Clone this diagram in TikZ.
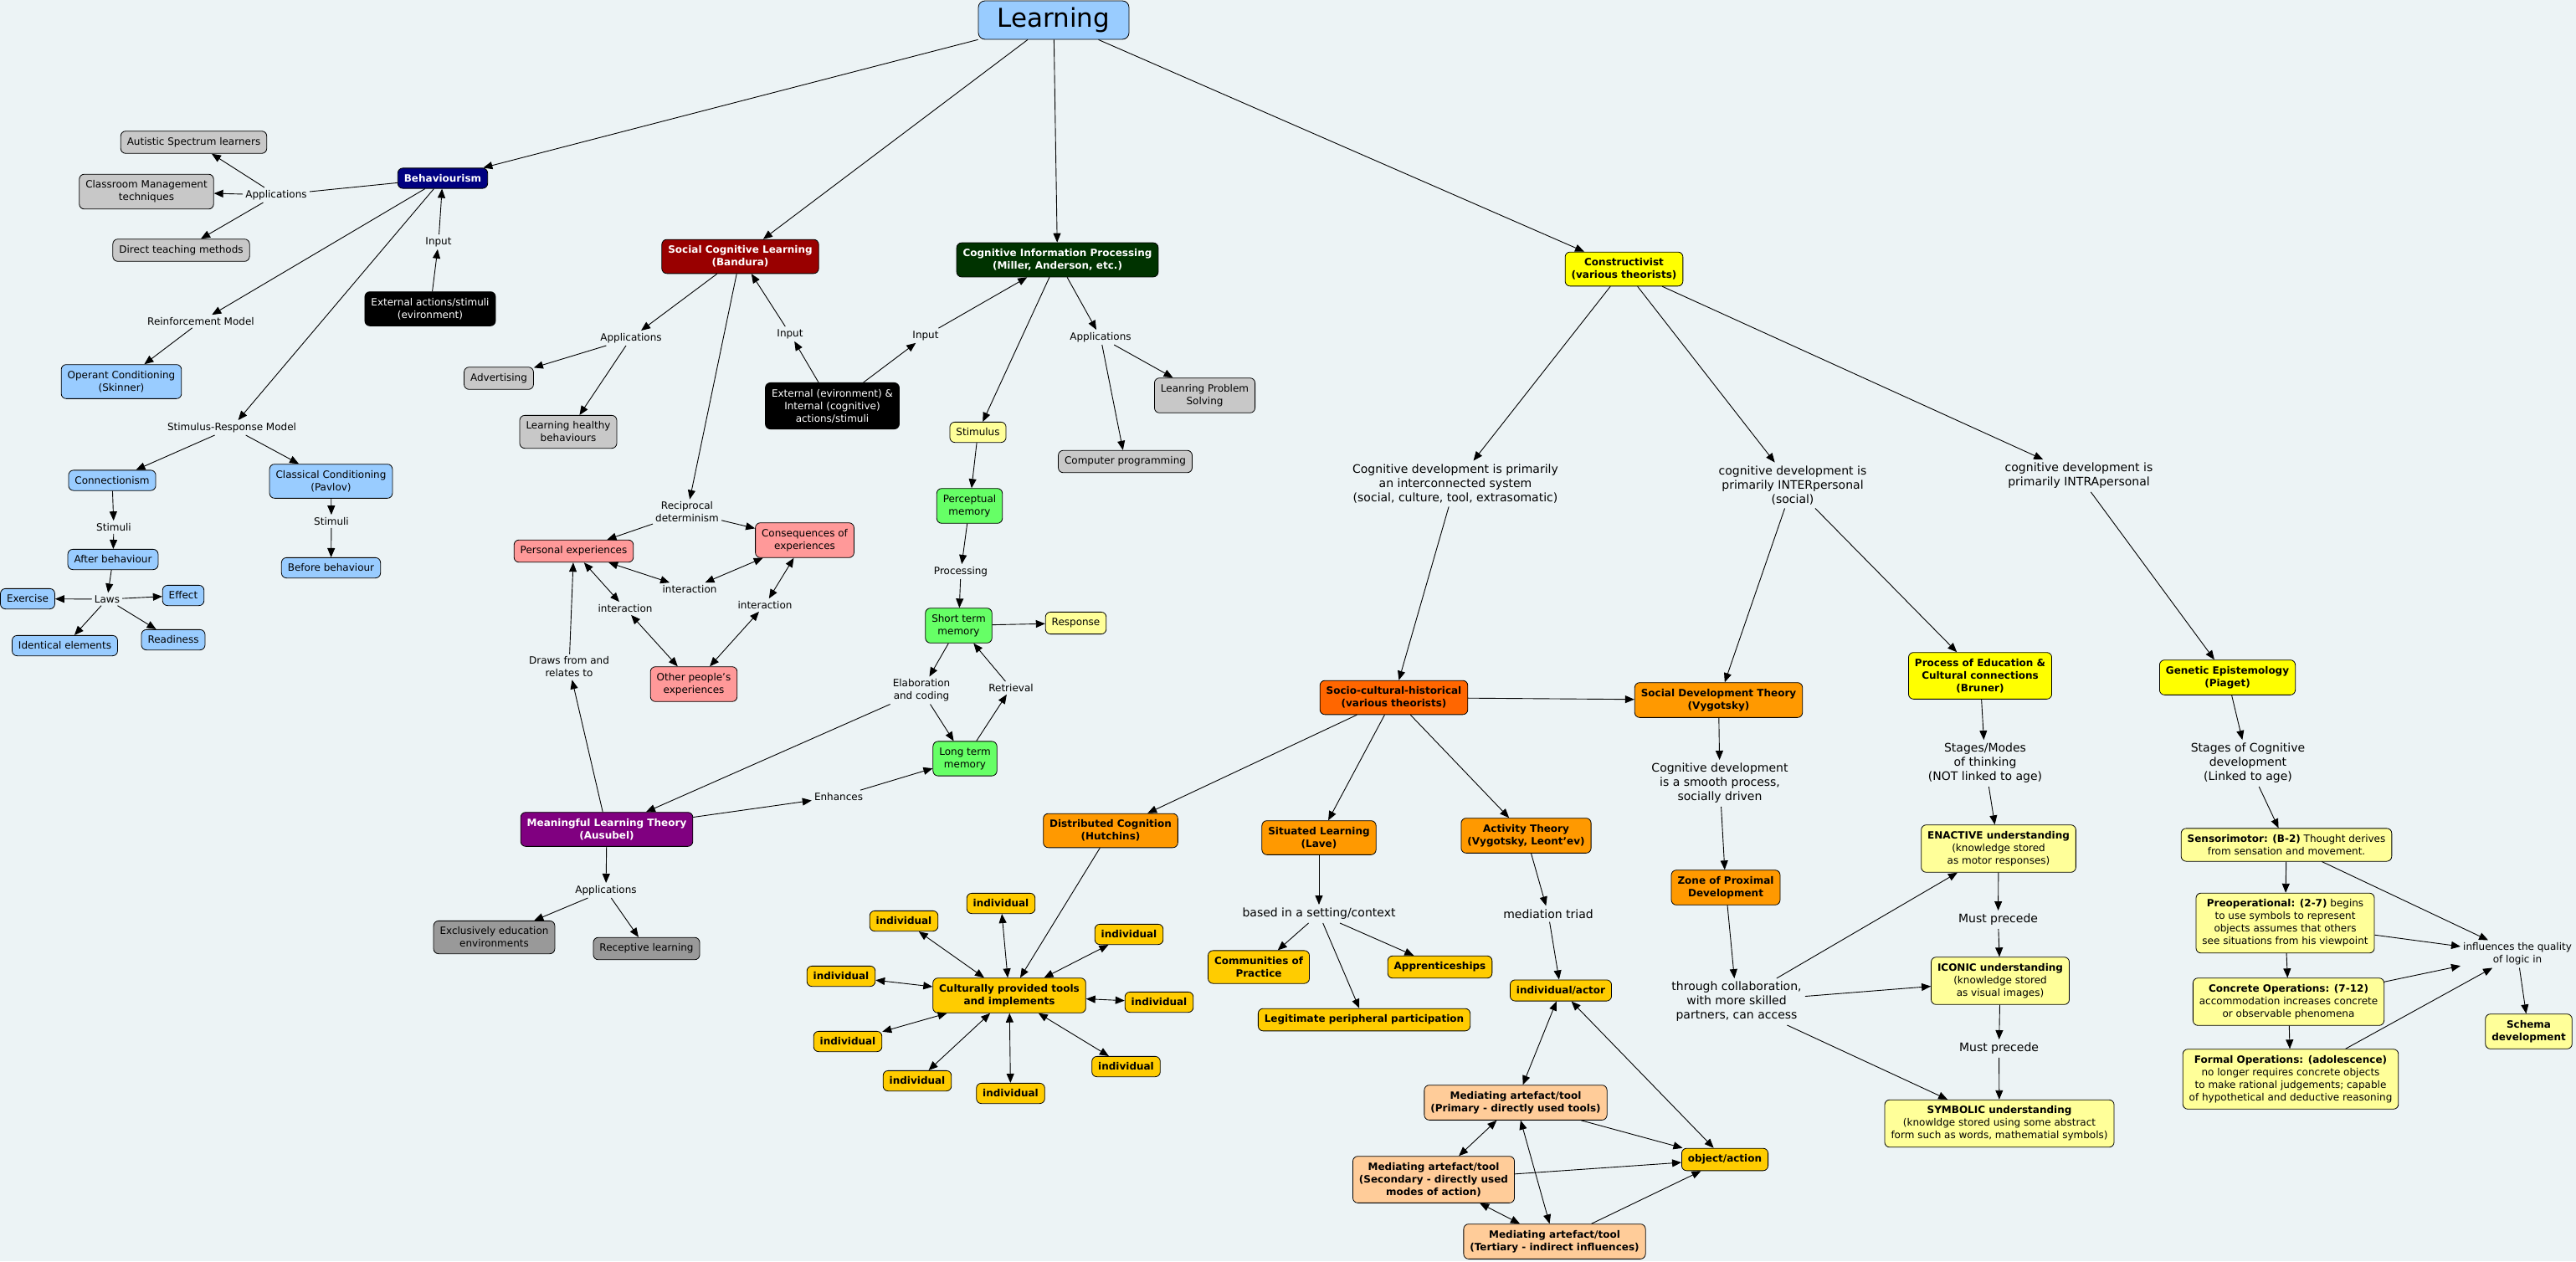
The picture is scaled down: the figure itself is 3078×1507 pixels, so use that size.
\documentclass[tikz,border=0pt]{standalone}
\usepackage{fontspec}
\setmainfont{DejaVu Sans}
\usetikzlibrary{arrows.meta}
\newcommand\myfn{\fontsize{12}{15}\selectfont}
\newcommand\myfb{\fontsize{12}{15}\selectfont\bfseries}
\newcommand\myfl{\fontsize{14}{17}\selectfont}
\definecolor{bgc}{RGB}{236,243,245}
\definecolor{cblue}{RGB}{153,204,255}
\definecolor{cnavy}{RGB}{0,0,128}
\definecolor{cgray}{RGB}{200,200,200}
\definecolor{cdgray}{RGB}{153,153,153}
\definecolor{cred}{RGB}{153,0,0}
\definecolor{cdgreen}{RGB}{0,51,0}
\definecolor{csalmon}{RGB}{255,153,153}
\definecolor{cgreen}{RGB}{102,255,102}
\definecolor{clyel}{RGB}{255,255,153}
\definecolor{cyel}{RGB}{255,255,0}
\definecolor{cpurple}{RGB}{128,0,128}
\definecolor{corred}{RGB}{255,102,0}
\definecolor{corange}{RGB}{255,153,0}
\definecolor{cgold}{RGB}{255,204,0}
\definecolor{cpeach}{RGB}{255,204,153}
\tikzset{
  box/.style={draw=black, line width=0.8pt, rounded corners=6pt, align=center, inner xsep=7.5pt, inner ysep=7.5pt, font=\myfn},
  bbox/.style={box, font=\myfb},
  lbl/.style={align=center, inner sep=3pt, font=\myfn},
  lblL/.style={align=center, inner sep=4pt, font=\myfl},
  ln/.style={line width=0.9pt},
  ar/.style={line width=0.9pt, -{Triangle[length=11pt,width=9pt]}},
  dar/.style={line width=0.9pt, {Triangle[length=11pt,width=9pt]}-{Triangle[length=11pt,width=9pt]}},
}
\begin{document}
\begin{tikzpicture}[x=1pt,y=-1pt]
\useasboundingbox (0,0) rectangle (3078,1507);
\fill[bgc] (0,0) rectangle (3078,1507);

% ---------- top ----------
\node[box,fill=cblue,font=\fontsize{31}{35}\selectfont,minimum width=180pt,minimum height=46pt,rounded corners=8pt] (learn) at (1259,24) {Learning};

% ---------- Behaviourism ----------
\node[bbox,fill=cnavy,text=white] (beh) at (529,213) {Behaviourism};
\node[box,fill=cgray] (aut) at (231.5,170) {Autistic Spectrum learners};
\node[box,fill=cgray] (cls) at (175,229) {Classroom Management\\techniques};
\node[box,fill=cgray] (dtm) at (216.5,299) {Direct teaching methods};
\node[box,fill=black,text=white] (ext1) at (514,369) {External actions/stimuli\\(evironment)};
\node[box,fill=cblue] (opc) at (145,456) {Operant Conditioning\\(Skinner)};
\node[box,fill=cblue] (conn) at (134,574) {Connectionism};
\node[box,fill=cblue] (clc) at (395.5,575) {Classical Conditioning\\(Pavlov)};
\node[box,fill=cblue] (aftb) at (135,668.5) {After behaviour};
\node[box,fill=cblue] (befb) at (395.5,678.5) {Before behaviour};
\node[box,fill=cblue] (exer) at (33,715.5) {Exercise};
\node[box,fill=cblue] (eff) at (219,711.5) {Effect};
\node[box,fill=cblue] (ident) at (77.5,771.5) {Identical elements};
\node[box,fill=cblue] (ready) at (207,764.5) {Readiness};

\node[lbl] (lapp1) at (330,233) {Applications};
\node[lbl] (linp1) at (524,289) {Input};
\node[lbl] (lrein) at (240,384) {Reinforcement Model};
\node[lbl] (lsrm) at (277,511) {Stimulus-Response Model};
\node[lbl] (lstim1) at (136,630) {Stimuli};
\node[lbl] (lstim2) at (396,623) {Stimuli};
\node[lbl] (llaws) at (128,716) {Laws};

% ---------- Social Cognitive ----------
\node[bbox,fill=cred,text=white] (scl) at (884.5,306.5) {Social Cognitive Learning\\(Bandura)};
\node[box,fill=cgray] (adv) at (596,452) {Advertising};
\node[box,fill=cgray] (lhb) at (679,516) {Learning healthy\\behaviours};
\node[box,fill=black,text=white] (ext2) at (994.5,485) {External (evironment) \&\\Internal (cognitive)\\actions/stimuli};
\node[box,fill=csalmon] (pers) at (685.5,658.5) {Personal experiences};
\node[box,fill=csalmon] (cons) at (961.5,645.5) {Consequences of\\experiences};
\node[box,fill=csalmon] (oth) at (829,817.5) {Other people's\\experiences};
\node[bbox,fill=cpurple,text=white] (mlt) at (725,991) {Meaningful Learning Theory\\(Ausubel)};
\node[box,fill=cdgray] (exc) at (590.5,1120) {Exclusively education\\environments};
\node[box,fill=cdgray] (rec) at (772.5,1133.5) {Receptive learning};

\node[lbl] (lapp2) at (754,404) {Applications};
\node[lbl] (linp2) at (944,399) {Input};
\node[lbl] (linp3) at (1106,401) {Input};
\node[lbl] (lrecip) at (821,612) {Reciprocal\\determinism};
\node[lbl] (lint1) at (824,704) {interaction};
\node[lbl] (lint2) at (747,727) {interaction};
\node[lbl] (lint3) at (914,723) {interaction};
\node[lbl] (ldraws) at (680,797) {Draws from and\\relates to};
\node[lbl] (lenh) at (1002,952) {Enhances};
\node[lbl] (lapp4) at (724,1064) {Applications};

% ---------- Cognitive Information Processing ----------
\node[bbox,fill=cdgreen,text=white] (cip) at (1263.5,310.5) {Cognitive Information Processing\\(Miller, Anderson, etc.)};
\node[box,fill=cgray] (lps) at (1439.5,472.5) {Leanring Problem\\Solving};
\node[box,fill=cgray] (cpr) at (1344.5,551.5) {Computer programming};
\node[box,fill=clyel] (stim) at (1168.5,516.5) {Stimulus};
\node[box,fill=cgreen] (perc) at (1158.5,604.5) {Perceptual\\memory};
\node[box,fill=cgreen] (stm) at (1145.5,747.5) {Short term\\memory};
\node[box,fill=clyel] (resp) at (1285.5,744.5) {Response};
\node[box,fill=cgreen] (ltm) at (1153,906.5) {Long term\\memory};

\node[lbl] (lapp3) at (1315,403) {Applications};
\node[lbl] (lproc) at (1148,683) {Processing};
\node[lbl] (lelab) at (1101,825) {Elaboration\\and coding};
\node[lbl] (lretr) at (1208,822) {Retrieval};

% ---------- Constructivist ----------
\node[bbox,fill=cyel] (con) at (1940.5,321.5) {Constructivist\\(various theorists)};
\node[bbox,fill=corred] (sch) at (1665.5,833.5) {Socio-cultural-historical\\(various theorists)};
\node[bbox,fill=corange] (sdt) at (2053.5,836.5) {Social Development Theory\\(Vygotsky)};
\node[bbox,fill=cyel] (brun) at (2366,807.5) {Process of Education \&\\Cultural connections\\(Bruner)};
\node[bbox,fill=cyel] (piag) at (2661.5,809.5) {Genetic Epistemology\\(Piaget)};
\node[bbox,fill=corange] (dist) at (1327,992.5) {Distributed Cognition\\(Hutchins)};
\node[bbox,fill=corange] (sit) at (1576,1001) {Situated Learning\\(Lave)};
\node[bbox,fill=corange] (act) at (1823.5,998.5) {Activity Theory\\(Vygotsky, Leont'ev)};
\node[bbox,fill=cgold] (cult) at (1206,1189.5) {Culturally provided tools\\and implements};
\node[bbox,fill=cgold] (i1) at (1196,1079.5) {individual};
\node[bbox,fill=cgold] (i2) at (1080,1100.5) {individual};
\node[bbox,fill=cgold] (i3) at (1349,1116.5) {individual};
\node[bbox,fill=cgold] (i4) at (1005,1166.5) {individual};
\node[bbox,fill=cgold] (i5) at (1385,1197.5) {individual};
\node[bbox,fill=cgold] (i6) at (1013,1244.5) {individual};
\node[bbox,fill=cgold] (i7) at (1345.5,1274.5) {individual};
\node[bbox,fill=cgold] (i8) at (1096,1291.5) {individual};
\node[bbox,fill=cgold] (i9) at (1207.5,1306.5) {individual};
\node[bbox,fill=cgold] (comm) at (1504,1155.5) {Communities of\\Practice};
\node[bbox,fill=cgold] (appr) at (1720.5,1155.5) {Apprenticeships};
\node[bbox,fill=cgold] (legit) at (1630,1218.5) {Legitimate peripheral participation};
\node[bbox,fill=cgold] (indact) at (1865,1183.5) {individual/actor};
\node[bbox,fill=cpeach] (prim) at (1811,1317.5) {Mediating artefact/tool\\(Primary - directly used tools)};
\node[bbox,fill=cgold] (obj) at (2061,1385.5) {object/action};
\node[bbox,fill=cpeach] (sec) at (1713,1409.5) {Mediating artefact/tool\\(Secondary - directly used\\modes of action)};
\node[bbox,fill=cpeach] (ter) at (1857.5,1483.5) {Mediating artefact/tool\\(Tertiary - indirect influences)};
\node[bbox,fill=corange] (zpd) at (2062,1060.5) {Zone of Proximal\\Development};
\node[box,fill=clyel] (enac) at (2388,1014) {\textbf{ENACTIVE understanding}\\(knowledge stored\\as motor responses)};
\node[box,fill=clyel] (icon) at (2390,1172) {\textbf{ICONIC understanding}\\(knowledge stored\\as visual images)};
\node[box,fill=clyel] (symb) at (2389,1342.5) {\textbf{SYMBOLIC understanding}\\(knowldge stored using some abstract\\form such as words, mathematial symbols)};
\node[box,fill=clyel] (sens) at (2732,1009.5) {\textbf{Sensorimotor: (B-2)} Thought derives\\from sensation and movement.};
\node[box,fill=clyel] (preop) at (2730.5,1103) {\textbf{Preoperational: (2-7)} begins\\to use symbols to represent\\objects assumes that others\\see situations from his viewpoint};
\node[box,fill=clyel] (concr) at (2734.5,1197) {\textbf{Concrete Operations: (7-12)}\\accommodation increases concrete\\or observable phenomena};
\node[box,fill=clyel] (formal) at (2737,1289.5) {\textbf{Formal Operations: (adolescence)}\\no longer requires concrete objects\\to make rational judgements; capable\\of hypothetical and deductive reasoning};
\node[bbox,fill=clyel] (schema) at (3021.5,1232.5) {Schema\\development};

\node[lblL] (lcd1) at (1739,578) {Cognitive development is primarily\\an interconnected system\\(social, culture, tool, extrasomatic)};
\node[lblL] (lcd2) at (2142,580) {cognitive development is\\primarily INTERpersonal\\(social)};
\node[lblL] (lcd3) at (2484,568.5) {cognitive development is\\primarily INTRApersonal};
\node[lblL] (lsmooth) at (2055,936) {Cognitive development\\is a smooth process,\\socially driven};
\node[lblL] (lmodes) at (2372,912) {Stages/Modes\\of thinking\\(NOT linked to age)};
\node[lblL] (lstages) at (2686,912) {Stages of Cognitive\\development\\(Linked to age)};
\node[lblL] (lbased) at (1576,1092) {based in a setting/context};
\node[lblL] (lmed) at (1850,1092) {mediation triad};
\node[lblL] (lthrough) at (2075,1197) {through collaboration,\\with more skilled\\partners, can access};
\node[lblL] (lmust1) at (2387.5,1099) {Must precede};
\node[lblL] (lmust2) at (2388.5,1253) {Must precede};
\node[lbl] (linfl) at (3008,1140) {influences the quality\\of logic in};

% ---------- connectors ----------
\draw[ar] (learn) -- (beh);
\draw[ar] (learn) -- (scl);
\draw[ar] (learn) -- (cip);
\draw[ar] (learn) -- (con);

\draw[ln] (beh) -- (lapp1);
\draw[ar] (lapp1) -- (aut);
\draw[ar] (lapp1) -- (cls);
\draw[ar] (lapp1) -- (dtm);
\draw[ar] (ext1) -- (linp1);
\draw[ar] (linp1) -- (beh);
\draw[ar] (beh) -- (lrein);
\draw[ar] (lrein) -- (opc);
\draw[ar] (beh) -- (lsrm);
\draw[ar] (lsrm) -- (conn);
\draw[ar] (lsrm) -- (clc);
\draw[ar] (conn) -- (lstim1);
\draw[ar] (lstim1) -- (aftb);
\draw[ar] (clc) -- (lstim2);
\draw[ar] (lstim2) -- (befb);
\draw[ar] (aftb) -- (llaws);
\draw[ar] (llaws) -- (exer);
\draw[ar] (llaws) -- (eff);
\draw[ar] (llaws) -- (ident);
\draw[ar] (llaws) -- (ready);

\draw[ar] (scl) -- (lapp2);
\draw[ar] (lapp2) -- (adv);
\draw[ar] (lapp2) -- (lhb);
\draw[ar] (ext2) -- (linp2);
\draw[ar] (linp2) -- (scl);
\draw[ar] (ext2) -- (linp3);
\draw[ar] (linp3) -- (cip);
\draw[ar] (scl) -- (lrecip);
\draw[ar] (lrecip) -- (pers);
\draw[ar] (lrecip) -- (cons);
\draw[dar] (pers) -- (lint1);
\draw[dar] (lint1) -- (cons);
\draw[dar] (pers) -- (lint2);
\draw[dar] (lint2) -- (oth);
\draw[dar] (cons) -- (lint3);
\draw[dar] (lint3) -- (oth);
\draw[ar] (mlt) -- (ldraws);
\draw[ar] (ldraws) -- (pers);
\draw[ar] (lelab) -- (mlt);
\draw[ar] (mlt) -- (lenh);
\draw[ar] (lenh) -- (ltm);
\draw[ar] (mlt) -- (lapp4);
\draw[ar] (lapp4) -- (exc);
\draw[ar] (lapp4) -- (rec);

\draw[ar] (cip) -- (stim);
\draw[ar] (cip) -- (lapp3);
\draw[ar] (lapp3) -- (lps);
\draw[ar] (lapp3) -- (cpr);
\draw[ar] (stim) -- (perc);
\draw[ar] (perc) -- (lproc);
\draw[ar] (lproc) -- (stm);
\draw[ar] (stm) -- (resp);
\draw[ar] (stm) -- (lelab);
\draw[ar] (lelab) -- (ltm);
\draw[ar] (ltm) -- (lretr);
\draw[ar] (lretr) -- (stm);

\draw[ar] (con) -- (lcd1);
\draw[ar] (lcd1) -- (sch);
\draw[ar] (con) -- (lcd2);
\draw[ar] (lcd2) -- (sdt);
\draw[ar] (lcd2) -- (brun);
\draw[ar] (con) -- (lcd3);
\draw[ar] (lcd3) -- (piag);
\draw[ar] (sch) -- (sdt);
\draw[ar] (sch) -- (dist);
\draw[ar] (sch) -- (sit);
\draw[ar] (sch) -- (act);
\draw[ar] (dist) -- (cult);
\foreach \k in {i1,i2,i3,i4,i5,i6,i7,i8,i9} { \draw[dar] (cult) -- (\k); }
\draw[ar] (sit) -- (lbased);
\draw[ar] (lbased) -- (comm);
\draw[ar] (lbased) -- (legit);
\draw[ar] (lbased) -- (appr);
\draw[ar] (act) -- (lmed);
\draw[ar] (lmed) -- (indact);
\draw[dar] (indact) -- (prim);
\draw[dar] (indact) -- (obj);
\draw[dar] (prim) -- (sec);
\draw[dar] (prim) -- (ter);
\draw[dar] (sec) -- (ter);
\draw[ar] (prim) -- (obj);
\draw[ar] (sec) -- (obj);
\draw[ar] (ter) -- (obj);
\draw[ar] (sdt) -- (lsmooth);
\draw[ar] (lsmooth) -- (zpd);
\draw[ar] (zpd) -- (lthrough);
\draw[ar] (lthrough) -- (enac);
\draw[ar] (lthrough) -- (icon);
\draw[ar] (lthrough) -- (symb);
\draw[ar] (brun) -- (lmodes);
\draw[ar] (lmodes) -- (enac);
\draw[ar] (enac) -- (lmust1);
\draw[ar] (lmust1) -- (icon);
\draw[ar] (icon) -- (lmust2);
\draw[ar] (lmust2) -- (symb);
\draw[ar] (piag) -- (lstages);
\draw[ar] (lstages) -- (sens);
\draw[ar] (sens) -- (preop);
\draw[ar] (preop) -- (concr);
\draw[ar] (concr) -- (formal);
\draw[ar] (sens) -- (linfl);
\draw[ar] (preop) -- (linfl);
\draw[ar] (concr) -- (linfl);
\draw[ar] (formal) -- (linfl);
\draw[ar] (linfl) -- (schema);
\end{tikzpicture}
\end{document}
